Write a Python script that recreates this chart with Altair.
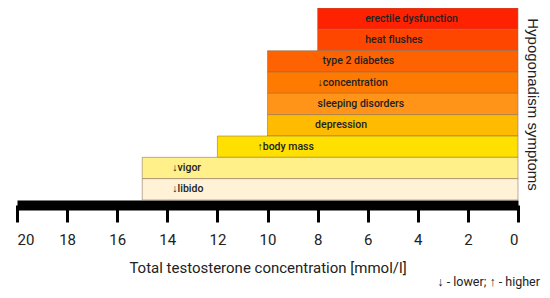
import altair as alt
import pandas as pd

symptoms = ["erectile dysfunction", "heat flushes", "type 2 diabetes", "↓concentration",
            "sleeping disorders", "depression", "↑body mass", "↓vigor", "↓libido"]
thresholds = [8, 8, 10, 10, 10, 10, 12, 15, 15]
label_at = [6.1, 6.1, 7.8, 8.0, 8.0, 8.1, 10.4, 13.8, 13.8]
colors = ["#ff2200", "#ff4600", "#ff6200", "#ff7a00", "#ff9418", "#ffbb00",
          "#ffe000", "#fff08a", "#fff2d6"]
ticks = [20, 18, 16, 14, 12, 10, 8, 6, 4, 2, 0]

df = pd.DataFrame({"symptom": symptoms, "threshold": thresholds, "zero": [0] * 9,
                   "label_at": label_at, "color": colors})

xscale = alt.Scale(domain=[20, 0], nice=False, zero=False)
yscale = alt.Scale(domain=symptoms, paddingInner=0, paddingOuter=0)

bars = alt.Chart(df).mark_bar(stroke="#8c7256", strokeWidth=0.8, strokeOpacity=0.7).encode(
    x=alt.X("threshold:Q", scale=xscale,
            axis=alt.Axis(values=ticks, title="Total testosterone concentration [mmol/l]",
                          grid=False, domainColor="black", domainWidth=10, offset=5,
                          tickColor="black", tickWidth=3, tickSize=17, tickCap="butt",
                          labelFont="Roboto", labelFontSize=15, labelColor="#222",
                          labelPadding=10, titleFont="Roboto", titleFontSize=15,
                          titleFontWeight="normal", titleColor="#222", titlePadding=13)),
    x2="zero:Q",
    y=alt.Y("symptom:N", scale=yscale,
            axis=alt.Axis(orient="right", labels=False, ticks=False, domain=False,
                          title="Hypogonadism symptoms", titleFont="Liberation Sans",
                          titleFontSize=15, titleFontWeight="normal", titleColor="#222",
                          titleAngle=90, titlePadding=6)),
    color=alt.Color("color:N", scale=None),
)

labels = alt.Chart(df).mark_text(align="left", baseline="middle", font="Roboto",
                                 fontSize=10.5, fontWeight=500, color="#222").encode(
    x=alt.X("label_at:Q", scale=xscale),
    y=alt.Y("symptom:N", scale=yscale),
    text="symptom:N",
)

chart = alt.layer(bars, labels).properties(
    width=501, height=192,
    autosize=alt.AutoSizeParams(type="none"),
    padding={"left": 9, "top": 0, "right": 24, "bottom": 90},
    title=alt.TitleParams("↓ - lower; ↑ - higher", orient="bottom", anchor="end",
                          frame="group", font="Roboto", fontSize=12.5,
                          fontWeight="normal", color="#222", offset=1, dx=22),
).configure_view(stroke=None)

chart.save("out.html", embed_options={"renderer": "svg", "actions": False})
